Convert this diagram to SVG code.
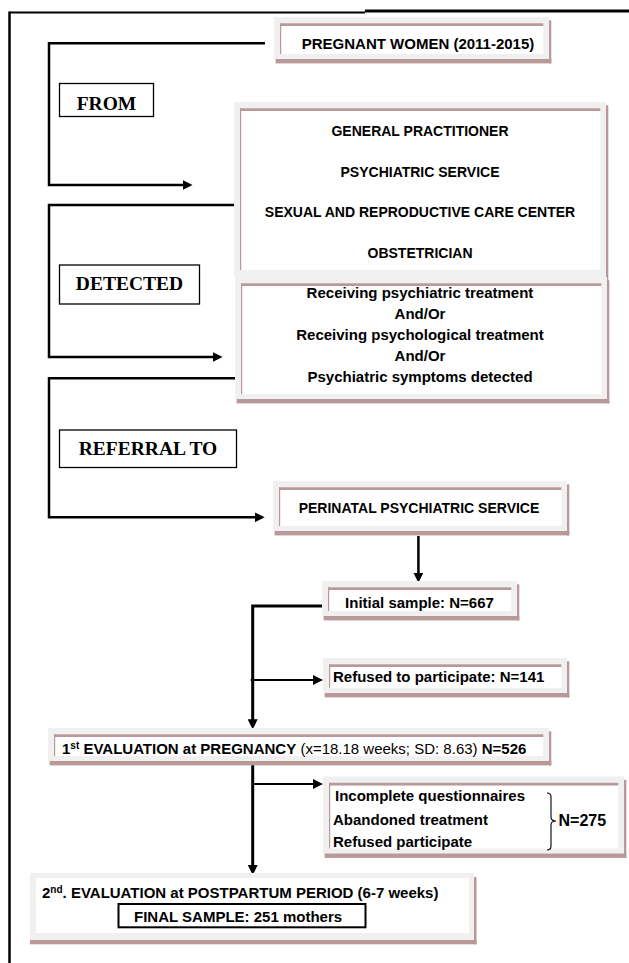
<svg xmlns="http://www.w3.org/2000/svg" width="629" height="963" viewBox="0 0 629 963">
<style>
.g{fill:#f0f0f0}
.w{fill:#ffffff}
.r{fill:#b89898}
.t{font-family:"Liberation Sans",Arial,sans-serif;font-weight:bold;fill:#000}
.n{font-weight:normal}
.lab{font-family:"Liberation Serif","Times New Roman",serif;font-weight:bold;font-size:19.5px;fill:#000;text-anchor:middle}
.lb{fill:#fff;stroke:#000;stroke-width:1.3}
.c{fill:none;stroke:#000;stroke-linejoin:miter}
.frame{fill:none;stroke:#000}
</style>
<defs>
<marker id="ah" viewBox="0 0 10 10" markerWidth="10" markerHeight="10" refX="7" refY="5" orient="auto" markerUnits="userSpaceOnUse">
<path d="M0,0 L10,5 L0,10 z" fill="#000"/>
</marker>
</defs>
<rect width="629" height="963" fill="#fff"/>
<g id="frame">
<line class="frame" x1="9.5" y1="12.5" x2="365" y2="12.5" stroke-width="2"/>
<line class="frame" x1="365" y1="11" x2="629" y2="11" stroke-width="3"/>
<line class="frame" x1="9.5" y1="11.5" x2="9.5" y2="963" stroke-width="2.5"/>
</g>
<g id="connectors">
<path class="c" d="M265,43.3 H49 V185 H189.5" stroke-width="2.5" marker-end="url(#ah)"/>
<path class="c" d="M236.7,205 H49 V357 H219.6" stroke-width="2.5" marker-end="url(#ah)"/>
<path class="c" d="M236.7,378.3 H49 V517.3 H261.7" stroke-width="2.5" marker-end="url(#ah)"/>
<path class="c" d="M418.4,536 V579.7" stroke-width="2.5" marker-end="url(#ah)"/>
<path class="c" d="M322,606 H252.7 V726.3" stroke-width="3" marker-end="url(#ah)"/>
<path class="c" d="M250.7,680 H320" stroke-width="1.8" marker-end="url(#ah)"/>
<path class="c" d="M252.7,765 V872" stroke-width="3" marker-end="url(#ah)"/>
<path class="c" d="M252.7,784 H320" stroke-width="1.8" marker-end="url(#ah)"/>
</g>
<g id="from">
<rect class="lb" x="59.5" y="83.5" width="94" height="33"/>
<text class="lab" x="106.5" y="110">FROM</text>
</g>
<g id="detected">
<rect class="lb" x="59.5" y="265" width="140" height="39"/>
<text class="lab" x="129.5" y="290">DETECTED</text>
</g>
<g id="referral">
<rect class="lb" x="59.5" y="430" width="177" height="37.5"/>
<text class="lab" x="148" y="455">REFERRAL TO</text>
</g>
<g id="pregnant">
<rect class="g" x="274" y="17" width="275" height="42"/>
<rect class="w" x="280" y="26" width="263.3" height="28"/>
<rect class="r" x="280" y="23.3" width="263.3" height="2.7"/>
<rect class="r" x="280" y="23.3" width="1.2" height="30.7"/>
<rect class="r" x="549" y="20.3" width="2.3" height="43.1"/>
<rect class="r" x="275.6" y="59" width="275.7" height="4.4"/>
<text class="t" x="418" y="49" font-size="15" text-anchor="middle">PREGNANT WOMEN (2011-2015)</text>
</g>
<g id="sources">
<rect class="g" x="234" y="102" width="372" height="175"/>
<rect class="w" x="240" y="111" width="360.3" height="159"/>
<rect class="r" x="240" y="108.3" width="360.3" height="2.7"/>
<rect class="r" x="240" y="108.3" width="1.2" height="161.7"/>
<rect class="r" x="606" y="105.3" width="2.3" height="175.7"/>
<g class="t" font-size="14" text-anchor="middle">
<text x="420" y="136">GENERAL PRACTITIONER</text>
<text x="420" y="176.5">PSYCHIATRIC SERVICE</text>
<text x="420" y="217">SEXUAL AND REPRODUCTIVE CARE CENTER</text>
<text x="420" y="257.5">OBSTETRICIAN</text>
</g>
</g>
<g id="criteria">
<rect class="g" x="235" y="277" width="372" height="122"/>
<rect class="w" x="241" y="286" width="360.3" height="108"/>
<rect class="r" x="241" y="283.3" width="360.3" height="2.7"/>
<rect class="r" x="241" y="283.3" width="1.2" height="110.7"/>
<rect class="r" x="607" y="280.3" width="2.3" height="123.1"/>
<rect class="r" x="236.6" y="399" width="372.7" height="4.4"/>
<g class="t" font-size="15" text-anchor="middle">
<text x="420" y="298">Receiving psychiatric treatment</text>
<text x="420" y="319">And/Or</text>
<text x="420" y="340">Receiving psychological treatment</text>
<text x="420" y="361">And/Or</text>
<text x="420" y="382">Psychiatric symptoms detected</text>
</g>
</g>
<g id="perinatal">
<rect class="g" x="273" y="481" width="294" height="50"/>
<rect class="w" x="279" y="490" width="282.3" height="36"/>
<rect class="r" x="279" y="487.3" width="282.3" height="2.7"/>
<rect class="r" x="279" y="487.3" width="1.2" height="38.7"/>
<rect class="r" x="567" y="484.3" width="2.3" height="51.1"/>
<rect class="r" x="274.6" y="531" width="294.7" height="4.4"/>
<text class="t" x="419" y="513" font-size="14" text-anchor="middle">PERINATAL PSYCHIATRIC SERVICE</text>
</g>
<g id="initial">
<rect class="g" x="322" y="581" width="195" height="35"/>
<rect class="w" x="328" y="590" width="183.3" height="21"/>
<rect class="r" x="328" y="587.3" width="183.3" height="2.7"/>
<rect class="r" x="328" y="587.3" width="1.2" height="23.7"/>
<rect class="r" x="517" y="584.3" width="2.3" height="36.1"/>
<rect class="r" x="323.6" y="616" width="195.7" height="4.4"/>
<text class="t" x="419.5" y="607.5" font-size="15" text-anchor="middle">Initial sample: N=667</text>
</g>
<g id="refused">
<rect class="g" x="323" y="658" width="244" height="35"/>
<rect class="w" x="329" y="667" width="232.3" height="21"/>
<rect class="r" x="329" y="664.3" width="232.3" height="2.7"/>
<rect class="r" x="329" y="664.3" width="1.2" height="23.7"/>
<rect class="r" x="567" y="661.3" width="2.3" height="36.1"/>
<rect class="r" x="324.6" y="693" width="244.7" height="4.4"/>
<text class="t" x="333" y="681.5" font-size="15">Refused to participate: N=141</text>
</g>
<g id="eval1">
<rect class="g" x="48" y="728" width="501" height="33"/>
<rect class="w" x="54" y="737" width="489.3" height="19"/>
<rect class="r" x="54" y="734.3" width="489.3" height="2.7"/>
<rect class="r" x="54" y="734.3" width="1.2" height="21.7"/>
<rect class="r" x="549" y="731.3" width="2.3" height="34.1"/>
<rect class="r" x="49.6" y="761" width="501.7" height="4.4"/>
<text class="t" x="62" y="754" font-size="15">1<tspan font-size="10" dy="-5">st</tspan><tspan dy="5"> EVALUATION at PREGNANCY</tspan><tspan class="n"> (x=18.18 weeks; SD: 8.63) </tspan>N=526</text>
</g>
<g id="dropouts">
<rect class="g" x="323" y="776.5" width="301" height="77"/>
<rect class="w" x="329" y="785.5" width="289.3" height="63"/>
<rect class="r" x="329" y="782.8" width="289.3" height="2.7"/>
<rect class="r" x="329" y="782.8" width="1.2" height="65.7"/>
<rect class="r" x="624" y="779.8" width="2.3" height="78.1"/>
<rect class="r" x="324.6" y="853.5" width="301.7" height="4.4"/>
<g class="t" font-size="15">
<text x="335" y="801">Incomplete questionnaires</text>
<text x="333" y="824.5">Abandoned treatment</text>
<text x="333" y="847">Refused participate</text>
</g>
<path d="M547,793 Q551,793 551,797 L551,817 Q551,821 556,821 Q551,821 551,825 L551,846 Q551,850 547,850" fill="none" stroke="#000" stroke-width="1.1"/>
<text class="t" x="558.5" y="826" font-size="16">N=275</text>
</g>
<g id="eval2">
<rect class="g" x="30" y="873" width="444" height="67"/>
<rect class="w" x="36" y="878" width="433" height="55"/>
<rect class="r" x="474" y="877" width="2.5" height="67.3"/>
<rect class="r" x="30" y="940" width="446.5" height="4.3"/>
<text class="t" x="42" y="898" font-size="15">2<tspan font-size="10" dy="-5">nd</tspan><tspan dy="5">. EVALUATION at POSTPARTUM PERIOD (6-7 weeks)</tspan></text>
<rect x="118.5" y="904" width="247" height="23.3" fill="#fff" stroke="#000" stroke-width="2"/>
<text class="t" x="134" y="921.5" font-size="15">FINAL SAMPLE: 251 mothers</text>
</g>
</svg>
